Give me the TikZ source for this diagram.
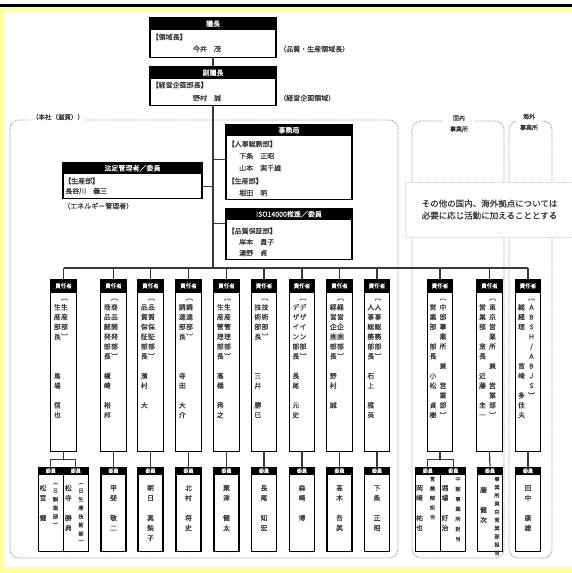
\documentclass[tikz,border=0pt]{standalone}
\usepackage{fontspec}
\setmainfont{Noto Sans CJK JP}[FakeBold=0.3]
\definecolor{txt}{HTML}{383838}
\definecolor{ylw}{HTML}{FFFF99}
\definecolor{rgn}{HTML}{A0A0A0}
\def\vcolloop#1{\ifx#1\relax\else\hbox to 9pt{\hss#1\hss}\expandafter\vcolloop\fi}
\newcommand\vstack[2]{\vtop{\baselineskip=#1\lineskiplimit=-100pt\lineskip=0pt\vcolloop#2\relax}}
\tikzset{
 box/.style={draw=black, line width=1.2pt, fill=white, inner sep=0pt, anchor=north},
 hdr/.style={fill=black, draw=black, line width=1.2pt, text=white, inner sep=0pt, anchor=north, font=\fontsize{7pt}{8pt}\selectfont},
 conn/.style={draw=txt, line width=1.2pt},
 lbl/.style={text=txt, inner sep=0pt, font=\fontsize{7pt}{8pt}\selectfont},
 vcol/.style={text=txt, inner sep=0pt, anchor=base, font=\fontsize{6.8pt}{9.8pt}\selectfont},
 ncol/.style={text=txt, inner sep=0pt, anchor=base, font=\fontsize{6.8pt}{10pt}\selectfont},
 scol/.style={text=txt, inner sep=0pt, anchor=base, font=\fontsize{5.2pt}{8pt}\selectfont},
 region/.style={draw=rgn, line width=0.8pt, dash pattern=on 1.5pt off 1pt, rounded corners=9pt},
 rlabel/.style={fill=white, text=txt, inner xsep=2pt, inner ysep=1pt, align=center, font=\fontsize{6pt}{11pt}\selectfont},
 notebox/.style={draw=black!20, dash pattern=on 1pt off 1pt, fill=white, align=center, text=txt, font=\fontsize{8.5pt}{12pt}\selectfont, inner sep=0pt},
}
\begin{document}
\begin{tikzpicture}[x=1pt,y=-1pt]
\useasboundingbox (0,0) rectangle (572,573);
\fill[white] (0,0) rectangle (572,573);
\fill[ylw] (0,6) rectangle (572,10.5);
\fill[ylw] (0,6) rectangle (3.5,573);
\fill[ylw] (0,566.5) rectangle (572,573);
\fill[black] (0,3.8) rectangle (572,6.8);

% regions
\draw[region] (10,120) rectangle (398,558);
\node[rlabel, font=\fontsize{6.5pt}{7pt}\selectfont] (honsha) at (58,117) {（本社（滋賀））};
\draw[region] (412,121) rectangle (504,558);
\node[rlabel, minimum width=32pt] (kokunai) at (459,123.5) {国内\\事業所};
\draw[region] (509,121) rectangle (552,558);
\node[rlabel, minimum width=26pt] (kaigai) at (529,122) {海外\\事業所};
\node[notebox, minimum width=169pt, minimum height=55pt] (note) at (489.5,209.5) {その他の国内、海外拠点については\\必要に応じ活動に加えることとする};

% top boxes
\node[box, minimum width=126pt, minimum height=40pt] (chair) at (213,17) {};
\node[hdr, minimum width=126pt, minimum height=12pt] (chairH) at (chair.north) {議長};
\node[lbl, anchor=west] (chairD) at (151.5,37) {【領域長】};
\node[lbl] (chairN) at (207,49) {今井　茂};
\node[lbl, anchor=west] (chairR) at (279,49) {（品質・生産領域長）};

\node[box, minimum width=126pt, minimum height=39pt] (vice) at (213,66) {};
\node[hdr, minimum width=126pt, minimum height=12pt] (viceH) at (vice.north) {副議長};
\node[lbl, anchor=west] (viceD) at (151.5,85) {【経営企画部長】};
\node[lbl] (viceN) at (207,98) {野村　誠};
\node[lbl, anchor=west] (viceR) at (279,98) {（経営企画領域）};

\node[box, minimum width=126pt, minimum height=75pt] (jimu) at (289,124) {};
\node[hdr, minimum width=126pt, minimum height=11pt] (jimuH) at (jimu.north) {事務局};
\node[lbl, anchor=west] (jimu1) at (227.5,144) {【人事総務部】};
\node[lbl, anchor=west] (jimu2) at (239,156) {下条　正昭};
\node[lbl, anchor=west] (jimu3) at (239,168) {山本　実千雄};
\node[lbl, anchor=west] (jimu4) at (227.5,181) {【生産部】};
\node[lbl, anchor=west] (jimu5) at (239,193) {堀田　明};

\node[box, minimum width=139pt, minimum height=36pt] (hotei) at (132.5,162) {};
\node[hdr, minimum width=139pt, minimum height=11pt] (hoteiH) at (hotei.north) {法定管理者／委員};
\node[lbl, anchor=west] (hotei1) at (64,181) {【生産部】};
\node[lbl, anchor=west] (hotei2) at (65,191) {長谷川　義三};
\node[lbl, anchor=west] (hotei3) at (63,206) {（エネルギー管理者）};

\node[box, minimum width=126pt, minimum height=51pt] (iso) at (289,208) {};
\node[hdr, minimum width=126pt, minimum height=11pt] (isoH) at (iso.north) {ISO14000推進／委員};
\node[lbl, anchor=west] (iso1) at (227.5,231) {【品質保証部】};
\node[lbl, anchor=west] (iso2) at (239,242) {岸本　貴子};
\node[lbl, anchor=west] (iso3) at (239,253) {湯野　貞};

% connectors top
\draw[conn] (chair.south) -- (vice.north);
\coordinate (bus) at (213,268);
\draw[conn] (vice.south) -- (bus);
\coordinate (jimuC) at ([yshift=2.5pt]jimu.west);
\draw[conn] (jimuC) -- (jimuC -| vice.south);
\coordinate (hoteiC) at ([yshift=-6pt]hotei.east);
\draw[conn] (hoteiC) -- (hoteiC -| vice.south);
\coordinate (isoC) at ([yshift=10.5pt]iso.west);
\draw[conn] (isoC) -- (isoC -| vice.south);

% responsible boxes
\foreach \i/\c in {1/63.5,2/113.5,3/150.5,4/188.5,5/226.5,6/264,7/302,8/339.5,9/377,10/440,11/489.5,12/528}{
  \node[box, minimum width=25.5pt, minimum height=172pt] (r\i) at (\c,279) {};
  \node[hdr, minimum width=25.5pt, minimum height=12.5pt, font=\fontsize{5.5pt}{6pt}\selectfont] (rh\i) at (r\i.north) {責任者};
}
\draw[conn] (bus -| r1.north) -- (bus -| r12.north);
\foreach \i in {1,...,12}{\draw[conn] (bus -| r\i.north) -- (r\i.north);}

% vertical texts in responsible boxes
\node[vcol] (r1R) at (64.5,300) {\vstack{9.8pt}{︹生産部︺}};
\node[vcol] (r1L) at (57.3,300) {\vstack{9.8pt}{　生産部長　　　馬場　信也}};
\node[vcol] (r2R) at (114.5,300) {\vstack{9.8pt}{︹商品開発部︺}};
\node[vcol] (r2L) at (107.3,300) {\vstack{9.8pt}{　商品開発部長　榎崎　裕邦}};
\node[vcol] (r3R) at (151.5,300) {\vstack{9.8pt}{︹品質保証部︺}};
\node[vcol] (r3L) at (144.3,300) {\vstack{9.8pt}{　品質保証部長　濱村　大}};
\node[vcol] (r4R) at (189.5,300) {\vstack{9.8pt}{︹調達部︺}};
\node[vcol] (r4L) at (182.3,300) {\vstack{9.8pt}{　調達部長　　　寺田　大介}};
\node[vcol] (r5R) at (227.5,300) {\vstack{9.8pt}{︹生産管理部︺}};
\node[vcol] (r5L) at (220.3,300) {\vstack{9.8pt}{　生産管理部長　高橋　秀之}};
\node[vcol] (r6R) at (265,300) {\vstack{9.8pt}{︹技術部︺}};
\node[vcol] (r6L) at (257.8,300) {\vstack{9.8pt}{　技術部長　　　三井　勝巳}};
\node[vcol] (r7R) at (303,300) {\vstack{9.8pt}{︹デザイン部︺}};
\node[vcol] (r7L) at (295.8,300) {\vstack{9.8pt}{　デザイン部長　長尾　元史}};
\node[vcol] (r8R) at (340.5,300) {\vstack{9.8pt}{︹経営企画部︺}};
\node[vcol] (r8L) at (333.3,300) {\vstack{9.8pt}{　経営企画部長　野村　誠}};
\node[vcol] (r9R) at (378,300) {\vstack{9.8pt}{︹人事総務部︺}};
\node[vcol] (r9L) at (370.8,300) {\vstack{9.8pt}{　人事総務部長　石上　雅英}};
\node[vcol] (r10R) at (443,300) {\vstack{9.8pt}{︹中部事業所　兼　営業部︺}};
\node[vcol] (r10L) at (433,300) {\vstack{9.8pt}{　営業部　部長　小松　貞樹}};
\node[vcol] (r11R) at (492.5,300) {\vstack{9.8pt}{︹東京営業所　兼　営業部︺}};
\node[vcol] (r11L) at (482.5,300) {\vstack{9.8pt}{　営業部　室長　近藤　圭一}};
\node[vcol] (r12R) at (531.5,300) {\vstack{9.8pt}{︹ABSH/ABJS︺}};
\node[vcol] (r12L) at (521.5,300) {\vstack{9.8pt}{　総経理　　　宮崎　多佳夫}};

% member boxes
\foreach \n/\c in {1a/50.8,1b/75.8,2/113.5,3/150.5,4/188.5,5/226.5,6/264,7/302,8/339.5,9/377,10a/427.8,10b/453.3,11/490,12/528}{
  \node[box, minimum width=25pt, minimum height=84.5pt] (m\n) at (\c,466.5) {};
  \node[hdr, minimum width=25pt, minimum height=7.5pt, font=\fontsize{5pt}{5.5pt}\selectfont] (mh\n) at (m\n.north) {委員};
}
% member connectors
\foreach \i in {2,...,9,11,12}{\draw[conn] (r\i.south) -- (m\i.north);}
\coordinate (p1) at ([yshift=-7.5pt]r1.south);
\draw[conn] (r1.south) -- (p1);
\draw[conn] (m1a.north) |- (p1) -| (m1b.north);
\coordinate (p10) at ([yshift=-7.5pt]r10.south);
\draw[conn] (r10.south) -- (p10);
\draw[conn] (m10a.north) |- (p10) -| (m10b.north);

% member names
\node[ncol] (m1aN) at (43,490.5) {\vstack{10pt}{松宮　健}};
\node[scol] (m1aS) at (55.5,484) {\vstack{8.6pt}{︵日製造部︶}};
\node[ncol] (m1bN) at (68.3,490.5) {\vstack{10pt}{松寺　勝典}};
\node[scol] (m1bS) at (81,484) {\vstack{8.6pt}{︵日生産技術部︶}};
\node[ncol] (m2N) at (113.5,490.5) {\vstack{10pt}{甲斐　敬二}};
\node[ncol] (m3N) at (150.5,490.5) {\vstack{10pt}{朝日　真梨子}};
\node[ncol] (m4N) at (188.5,490.5) {\vstack{10pt}{北村　将史}};
\node[ncol] (m5N) at (226.5,490.5) {\vstack{10pt}{粟津　健太}};
\node[ncol] (m6N) at (264,490.5) {\vstack{10pt}{長尾　知宏}};
\node[ncol] (m7N) at (302,490.5) {\vstack{10pt}{森崎　博}};
\node[ncol] (m8N) at (339.5,490.5) {\vstack{10pt}{高木　吾美}};
\node[ncol] (m9N) at (377,490.5) {\vstack{10pt}{下条　正昭}};
\node[ncol] (m10aN) at (419.5,490.5) {\vstack{10pt}{岡崎　祐也}};
\node[scol] (m10aS) at (432.5,481) {\vstack{9.5pt}{営業部担当}};
\node[ncol] (m10bN) at (445,490.5) {\vstack{10pt}{堀場　好治}};
\node[scol] (m10bS) at (458,481) {\vstack{10pt}{中部事業所担当}};
\node[ncol] (m11N) at (483.5,492.5) {\vstack{10pt}{藤　健次}};
\node[scol] (m11S) at (497,481) {\vstack{8.2pt}{事業所東京営業部担当}};
\node[ncol] (m12N) at (528,490.5) {\vstack{10pt}{田中　康雄}};
\end{tikzpicture}
\end{document}
